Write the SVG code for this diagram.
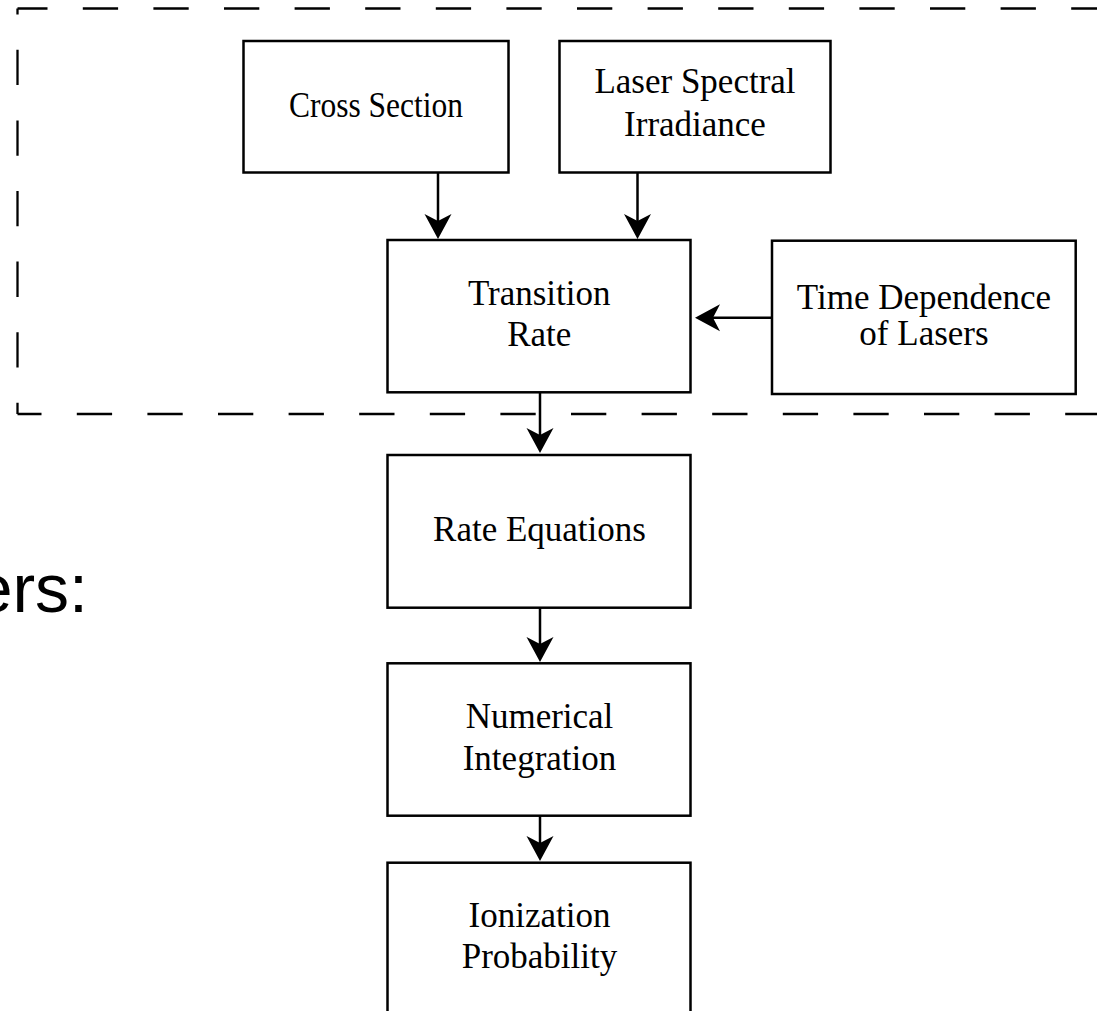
<svg xmlns="http://www.w3.org/2000/svg" width="1097" height="1011" viewBox="0 0 1097 1011">
<style>
.box{fill:#fff;stroke:#000;stroke-width:2.5}
.lbl{font-family:"Liberation Serif","Times New Roman",serif;font-size:35px;fill:#000;text-anchor:middle}
.dash{fill:none;stroke:#000;stroke-width:2.3;stroke-dasharray:35.3 35.3}
.conn{fill:none;stroke:#000;stroke-width:2.5}
</style>
<defs>
<marker id="arr" viewBox="-9 -15 30 30" markerWidth="30" markerHeight="30" refX="0" refY="0" orient="auto" markerUnits="userSpaceOnUse">
<path d="M18,0 L-7,-13.5 L0,0 L-7,13.5 Z" fill="#000"/>
</marker>
</defs>
<rect width="1097" height="1011" fill="#fff"/>
<g id="group-boundary">
<line class="dash" x1="17.5" y1="8.5" x2="1100" y2="8.5" stroke-dashoffset="5.3"/>
<line class="dash" x1="17.5" y1="8.5" x2="17.5" y2="414" stroke-dashoffset="29.3"/>
<line class="dash" x1="17.5" y1="414" x2="1100" y2="414" stroke-dashoffset="11.3"/>
</g>
<text x="88" y="611.7" font-family="'Liberation Sans',Arial,sans-serif" font-size="68" text-anchor="end" fill="#000">ers:</text>
<g id="connectors">
<line class="conn" x1="438" y1="172.7" x2="438" y2="221" marker-end="url(#arr)"/>
<line class="conn" x1="637.5" y1="172.7" x2="637.5" y2="221" marker-end="url(#arr)"/>
<line class="conn" x1="771.7" y1="317.7" x2="713" y2="317.7" marker-end="url(#arr)"/>
<line class="conn" x1="540" y1="392.3" x2="540" y2="435" marker-end="url(#arr)"/>
<line class="conn" x1="540" y1="607.7" x2="540" y2="644" marker-end="url(#arr)"/>
<line class="conn" x1="540" y1="815.7" x2="540" y2="843" marker-end="url(#arr)"/>
</g>
<g id="node-cross-section">
<rect class="box" x="243.5" y="41" width="265" height="131.5"/>
<text class="lbl" x="376" y="117.3" textLength="174" lengthAdjust="spacingAndGlyphs">Cross Section</text>
</g>
<g id="node-laser-spectral-irradiance">
<rect class="box" x="559.5" y="41" width="271" height="131.5"/>
<text class="lbl" x="695" y="93.3">Laser Spectral</text>
<text class="lbl" x="695" y="136">Irradiance</text>
</g>
<g id="node-transition-rate">
<rect class="box" x="387.5" y="240" width="303" height="152.3"/>
<text class="lbl" x="539.2" y="305">Transition</text>
<text class="lbl" x="539.2" y="346">Rate</text>
</g>
<g id="node-time-dependence">
<rect class="box" x="772" y="240.7" width="303.7" height="153.3"/>
<text class="lbl" x="924" y="309.3">Time Dependence</text>
<text class="lbl" x="924" y="345">of Lasers</text>
</g>
<g id="node-rate-equations">
<rect class="box" x="387.5" y="455" width="303" height="152.7"/>
<text class="lbl" x="539.5" y="541">Rate Equations</text>
</g>
<g id="node-numerical-integration">
<rect class="box" x="387.5" y="663.3" width="303" height="152.4"/>
<text class="lbl" x="539.5" y="728.3">Numerical</text>
<text class="lbl" x="539.5" y="770">Integration</text>
</g>
<g id="node-ionization-probability">
<rect class="box" x="387.5" y="862.7" width="303" height="152.3"/>
<text class="lbl" x="539.5" y="927.3">Ionization</text>
<text class="lbl" x="539.5" y="968.3">Probability</text>
</g>
</svg>
